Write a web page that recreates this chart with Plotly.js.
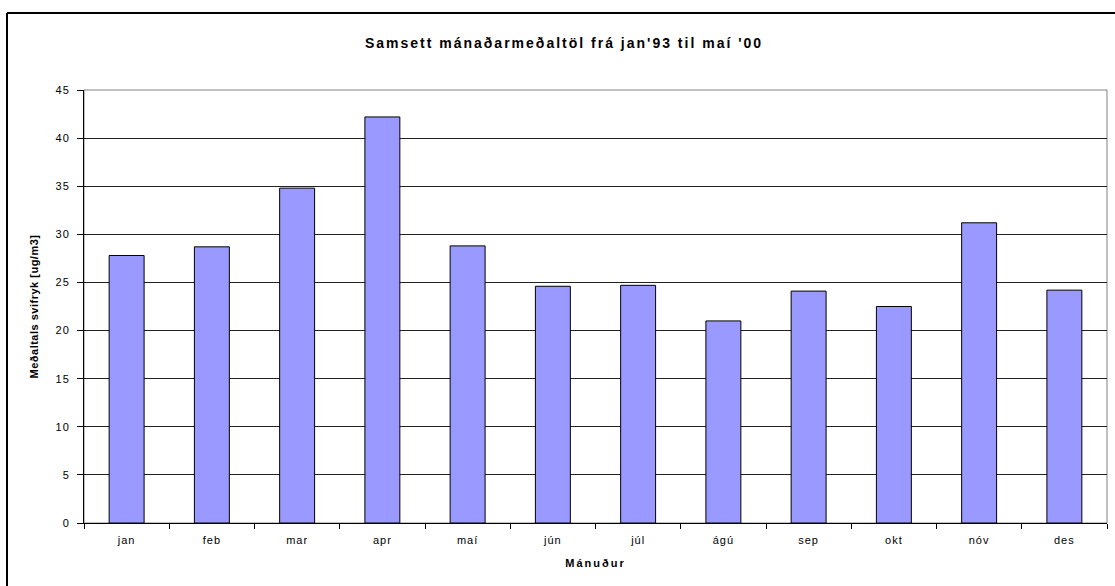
<!DOCTYPE html>
<html>
<head>
<meta charset="utf-8">
<script src="https://cdn.plot.ly/plotly-3.0.1.min.js"></script>
<style>
html,body{margin:0;padding:0;background:#fff;}
#chart{width:1115px;height:586px;}
#chart .gtitle{letter-spacing:2px;}
#chart .xtick text, #chart .ytick text{letter-spacing:1px;}
#chart .xtitle{letter-spacing:2px;}
#chart .ytitle{letter-spacing:0.5px;}
</style>
</head>
<body>
<div id="chart"></div>
<script>
const months = ["jan","feb","mar","apr","maí","jún","júl","ágú","sep","okt","nóv","des"];
const values = [27.8, 28.7, 34.8, 42.2, 28.8, 24.6, 24.7, 21.0, 24.1, 22.5, 31.2, 24.2];
const yTicks = [0,5,10,15,20,25,30,35,40,45];
const chartTitle = "Samsett mánaðarmeðaltöl frá jan'93 til maí '00";
const xTitle = "Mánuður";
const yTitle = "Meðaltals svifryk [ug/m3]";

const font = "Arial, 'Liberation Sans', sans-serif";
const trace = {
  type: "bar",
  x: months,
  y: values,
  width: 0.41,
  marker: {color: "#9999FF", line: {color: "#000000", width: 1}},
  hoverinfo: "x+y"
};
// plot area pixels: x 84..1107, y 90..523
const L=84, R=1107, T=90, B=523;
const px = v => (v - L) / (R - L);
const py = v => (B - v) / (B - T);
const layout = {
  width: 1115, height: 586,
  margin: {l: L, r: 1115 - R, t: T, b: 586 - B, pad: 0},
  paper_bgcolor: "#ffffff",
  plot_bgcolor: "#ffffff",
  showlegend: false,
  font: {family: font, size: 11, color: "#000"},
  title: {
    text: "<b>" + chartTitle + "</b>",
    font: {family: font, size: 14, color: "#000"},
    x: px(564), xref: "paper", xanchor: "center",
    y: 1 - 43/586, yref: "container", yanchor: "middle"
  },
  xaxis: {
    type: "category",
    tickvals: months, ticktext: months,
    tickson: "boundaries",
    ticks: "outside", ticklen: 5, tickcolor: "#000", tickwidth: 1,
    ticklabelstandoff: 7,
    showline: true, linecolor: "#000", linewidth: 1,
    showgrid: false, zeroline: false,
    tickfont: {family: font, size: 11, color: "#000"},
    title: {text: "<b>" + xTitle + "</b>", font: {family: font, size: 11, color: "#000"}, standoff: 14},
    range: [-0.5, 11.5], fixedrange: true
  },
  yaxis: {
    range: [0, 45],
    tickvals: yTicks,
    ticks: "outside", ticklen: 6, tickcolor: "#000", tickwidth: 1,
    ticklabelstandoff: 5,
    showline: true, linecolor: "#000", linewidth: 1,
    showgrid: true, gridcolor: "#222", gridwidth: 1,
    zeroline: false,
    tickfont: {family: font, size: 11, color: "#000"},
    title: {text: "<b>" + yTitle + "</b>", font: {family: font, size: 11, color: "#000"}, standoff: 16},
    fixedrange: true
  },
  shapes: [
    {type: "rect", xref: "paper", yref: "paper", x0: 0, x1: 1, y0: 0, y1: 1,
     line: {color: "#808080", width: 1}, layer: "below"},
    {type: "line", xref: "paper", yref: "paper", x0: px(7), x1: px(7), y0: py(13), y1: py(600),
     line: {color: "#000", width: 2}},
    {type: "line", xref: "paper", yref: "paper", x0: px(7), x1: px(1130), y0: py(13), y1: py(13),
     line: {color: "#000", width: 2}}
  ]
};
Plotly.newPlot("chart", [trace], layout, {displayModeBar: false, staticPlot: true});
</script>
</body>
</html>
